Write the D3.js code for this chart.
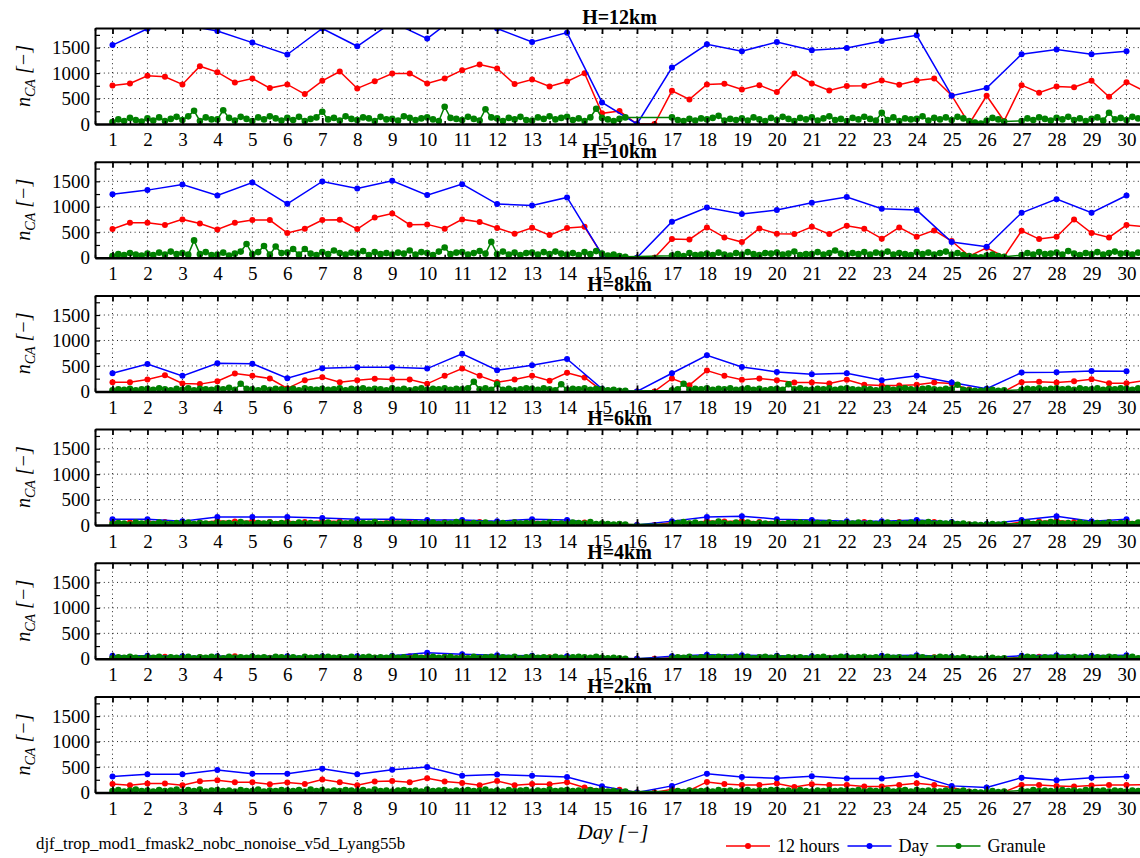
<!DOCTYPE html>
<html>
<head>
<meta charset="utf-8">
<script src="https://cdn.jsdelivr.net/npm/d3@7/dist/d3.min.js"></script>
<style>
	body { margin: 0; background: #fff; }
	svg { display: block; font-family: "Liberation Serif", "Times New Roman", serif; }
	.axis path, .axis line { stroke: #000; }
	.axis text { font-family: "Liberation Serif", "Times New Roman", serif; fill: #000; }
</style>
</head>
<body>
<div id="chart"></div>
<script>
// ---- data -------------------------------------------------------------
var titles = ["H=12km", "H=10km", "H=8km", "H=6km", "H=4km", "H=2km"];
var dayTicks = d3.range(1, 31);
var yTickValues = [0, 250, 500, 750, 1000, 1250, 1500, 1750];
var yGridValues = [500, 1000, 1500];

// daily counts (day 1..30)
var day12 = [1550, 1870, 1950, 1826, 1598, 1364, 1875, 1526, 2000, 1677, 2200, 1875, 1611, 1794, 424, 0, 1109, 1565, 1428, 1611, 1448, 1493, 1631, 1742, 555, 705, 1370, 1461, 1370, 1428];
var day10 = [1248, 1327, 1438, 1222, 1477, 1059, 1497, 1359, 1510, 1229, 1444, 1052, 1026, 1183, 60, 0, 706, 987, 856, 935, 1078, 1190, 961, 935, 307, 216, 882, 1150, 882, 1222];
var day8 = [357, 539, 305, 552, 545, 260, 455, 474, 474, 448, 740, 416, 513, 636, 50, 0, 357, 708, 481, 383, 338, 357, 221, 305, 175, 52, 370, 377, 403, 396];
var day6 = [117, 117, 78, 157, 157, 157, 137, 117, 117, 98, 98, 78, 117, 98, 20, 0, 78, 157, 176, 117, 98, 78, 78, 98, 59, 20, 98, 176, 78, 117];
var day4 = [60, 60, 50, 50, 50, 50, 50, 50, 60, 120, 90, 70, 60, 50, 20, 0, 50, 80, 70, 60, 50, 50, 60, 70, 40, 20, 60, 70, 60, 70];
var day2 = [312, 357, 357, 442, 370, 370, 468, 357, 448, 500, 331, 351, 331, 305, 123, 0, 130, 370, 305, 279, 318, 273, 273, 338, 130, 97, 292, 240, 292, 312];

// 12 hour counts (day 1, 1.5, 2 ... 30.5)
var half12 = [757, 796, 945, 926, 777, 1135, 1018, 816, 894, 705, 777, 587, 848, 1031, 698, 841, 992, 992, 796, 894,
	1057, 1168, 1090, 783, 874, 737, 835, 998, 209, 254, 0, 0, 652, 483, 777, 790, 679, 763, 626, 992,
	796, 659, 744, 751, 855, 770, 855, 894, 560, 0, 555, 60, 763, 613, 737, 724, 848, 535, 822, 650];
var half10 = [562, 686, 686, 641, 752, 673, 556, 686, 739, 739, 484, 569, 739, 745, 562, 791, 869, 647, 654, 569,
	752, 699, 582, 471, 588, 444, 582, 608, 60, 20, 0, 0, 366, 359, 595, 399, 307, 575, 471, 464,
	608, 464, 627, 569, 373, 595, 412, 536, 327, 30, 196, 20, 529, 366, 412, 752, 484, 399, 641, 608];
var half8 = [182, 182, 234, 318, 156, 143, 201, 351, 305, 253, 58, 221, 279, 182, 221, 247, 234, 234, 149, 305,
	448, 305, 182, 234, 305, 208, 364, 273, 15, 0, 0, 0, 253, 123, 409, 305, 227, 253, 221, 175,
	175, 156, 227, 130, 117, 117, 130, 175, 156, 40, 0, 0, 182, 188, 175, 201, 240, 162, 162, 210];
var half6 = [70, 50, 70, 60, 60, 50, 80, 70, 80, 60, 70, 60, 80, 70, 70, 60, 80, 60, 70, 60,
	70, 60, 50, 60, 70, 60, 70, 50, 10, 20, 0, 0, 50, 30, 80, 70, 80, 60, 70, 60,
	60, 50, 50, 60, 50, 60, 70, 60, 30, 10, 0, 10, 60, 70, 90, 60, 50, 60, 70, 60];
var half4 = [30, 20, 30, 40, 20, 30, 40, 50, 30, 20, 30, 20, 40, 30, 30, 20, 40, 50, 60, 40,
	50, 30, 30, 20, 40, 30, 30, 20, 10, 0, 0, 0, 20, 10, 40, 30, 50, 30, 30, 20,
	30, 20, 30, 20, 30, 20, 40, 30, 10, 0, 0, 0, 30, 40, 40, 30, 30, 20, 30, 30];
var half2 = [169, 143, 175, 175, 143, 221, 240, 201, 201, 162, 195, 169, 253, 201, 143, 214, 227, 201, 279, 214,
	188, 143, 227, 143, 169, 162, 201, 97, 52, 52, 0, 0, 65, 39, 208, 169, 149, 149, 175, 110,
	162, 149, 149, 117, 117, 149, 182, 149, 97, 19, 0, 13, 149, 149, 130, 117, 136, 149, 149, 150];

// granule counts, six per day (null = no granule)
var gran12 = [
	40, 90, 60, 120, 80, 50,    110, 70, 130, 60, 100, 140,   80, 150, 260, 60, 130, 90,
	90, 270, 120, 70, 140, 100,  60, 130, 90, 150, 110, 70,    120, 80, 140, 60, 100, 130,
	240, 90, 120, 70, 150, 100,  80, 130, 110, 60, 140, 90,    100, 70, 150, 120, 80, 110,
	130, 90, 60, 340, 120, 100,  80, 140, 100, 70, 290, 130,   110, 60, 120, 90, 140, 80,
	70, 130, 100, 150, 90, 120,  140, 80, 110, 60, 130, 300,   120, 90, 60, 100, 130, null,
	null, null, null, null, null, null,  130, 80, 60, 100, 70, 110,  90, 120, 160, 70, 100, 80,
	110, 70, 130, 90, 60, 120,   80, 140, 100, 60, 120, 90,    130, 70, 110, 150, 80, 100,
	60, 120, 90, 140, 100, 70,   220, 80, 130, 60, 110, 90,    100, 150, 70, 120, 90, 130,
	80, 140, 110, 60, 30, 10,    70, 120, 90, 50, null, null,  60, 110, 80, 130, 100, 70,
	120, 90, 140, 80, 110, 60,   100, 130, 70, 220, 90, 120,   80, 140, 110, 70, 120, 100
];
var gran10 = [
	30, 70, 50, 90, 60, 40,      80, 50, 100, 60, 120, 70,     90, 60, 340, 70, 110, 50,
	60, 100, 40, 80, 120, 270,   70, 110, 230, 60, 220, 90,    100, 170, 60, 170, 80, 50,
	110, 70, 140, 90, 60, 100,   80, 130, 50, 110, 70, 90,     60, 100, 80, 140, 60, 110,
	90, 50, 120, 200, 70, 100,   110, 60, 90, 130, 80, 310,    70, 120, 60, 100, 50, 90,
	100, 60, 110, 70, 120, 80,   60, 90, 50, 110, 70, 130,     80, 40, 60, 30, 20, null,
	null, null, null, null, null, null,  40, 70, 30, 90, 50, 60,  80, 50, 100, 60, 40, 90,
	60, 110, 70, 50, 90, 80,     100, 60, 80, 120, 50, 70,     70, 110, 60, 90, 140, 80,
	50, 90, 70, 110, 60, 100,    80, 120, 60, 90, 70, 50,      110, 70, 100, 60, 90, 120,
	60, 90, 50, 30, 20, 10,      40, 60, 30, 20, null, null,   50, 90, 60, 110, 70, 80,
	100, 60, 130, 80, 50, 90,    70, 110, 60, 90, 120, 80,     90, 60, 100, 70, 110, 60
];
var gran8 = [
	20, 40, 30, 50, 20, 40,      50, 30, 60, 40, 20, 50,       30, 60, 20, 50, 40, 30,
	60, 40, 70, 30, 150, 50,     40, 20, 60, 30, 50, 40,       30, 50, 20, 60, 40, 30,
	50, 30, 40, 60, 20, 50,      40, 60, 30, 50, 40, 20,       60, 30, 50, 20, 40, 60,
	30, 50, 40, 60, 30, 50,      40, 60, 190, 40, 60, 30,      140, 30, 50, 20, 40, 60,
	50, 30, 60, 40, 20, 140,     30, 50, 40, 60, 30, 50,       40, 20, 30, 10, 10, null,
	null, null, null, null, null, null,  20, 40, 150, 30, 50, 40,  60, 30, 50, 40, 60, 30,
	40, 60, 30, 50, 20, 40,      50, 30, 140, 40, 60, 30,      30, 50, 40, 60, 30, 50,
	60, 40, 30, 50, 40, 20,      40, 60, 30, 50, 60, 40,       30, 50, 60, 40, 30, 50,
	40, 130, 30, 20, 10, 10,     20, 30, 10, 20, null, null,   30, 50, 40, 60, 30, 50,
	60, 40, 50, 30, 60, 40,      40, 60, 30, 50, 40, 60,       50, 30, 60, 40, 50, 30
];
var gran6 = [
	20, 40, 30, 10, 50, 30,      40, 20, 50, 30, 20, 40,       30, 50, 20, 40, 30, 20,
	50, 30, 40, 20, 60, 30,      20, 40, 30, 50, 20, 40,       40, 20, 50, 30, 40, 20,
	30, 50, 20, 40, 30, 50,      20, 40, 30, 60, 20, 30,       40, 30, 50, 20, 40, 30,
	30, 50, 20, 40, 30, 60,      50, 20, 40, 30, 50, 20,       30, 40, 20, 50, 30, 40,
	40, 20, 30, 50, 20, 30,      20, 50, 40, 30, 60, 20,       30, 20, 10, 20, 10, null,
	null, null, null, null, null, null,  20, 40, 60, 30, 50, 20,  40, 30, 70, 40, 20, 50,
	30, 50, 20, 40, 30, 20,      50, 20, 40, 30, 50, 40,       20, 40, 30, 50, 20, 30,
	40, 30, 50, 20, 40, 20,      30, 50, 20, 40, 30, 50,       20, 40, 60, 30, 40, 30,
	40, 20, 30, 10, 10, 0,       10, 20, 10, 20, null, null,   30, 50, 20, 40, 30, 60,
	50, 30, 40, 20, 50, 30,      20, 40, 30, 50, 20, 40,       40, 20, 50, 30, 40, 20
];
var gran4 = [
	10, 30, 20, 40, 20, 10,      30, 20, 40, 10, 30, 20,       20, 40, 10, 30, 20, 40,
	30, 10, 40, 20, 30, 20,      40, 20, 30, 10, 40, 30,       20, 30, 10, 40, 20, 30,
	30, 40, 20, 30, 10, 40,      10, 30, 40, 20, 30, 20,       40, 20, 30, 10, 40, 20,
	20, 40, 20, 30, 40, 10,      30, 10, 40, 20, 30, 40,       20, 30, 20, 40, 10, 30,
	40, 20, 30, 20, 40, 20,      10, 30, 40, 30, 20, 40,       20, 10, 20, 10, 0, null,
	null, null, null, null, null, null,  10, 30, 20, 40, 10, 30,  30, 20, 40, 30, 20, 40,
	20, 40, 10, 30, 40, 20,      40, 10, 30, 20, 30, 10,       20, 30, 40, 10, 20, 40,
	30, 20, 30, 40, 20, 30,      10, 40, 20, 30, 10, 20,       40, 30, 10, 20, 40, 30,
	20, 10, 30, 10, 0, 0,        10, 20, 0, 10, null, null,    20, 40, 30, 10, 30, 20,
	40, 20, 30, 40, 20, 30,      10, 30, 20, 40, 30, 10,       30, 40, 10, 20, 40, 30
];
var gran2 = [
	30, 50, 20, 40, 60, 30,      40, 20, 50, 30, 40, 60,       20, 50, 30, 60, 20, 40,
	50, 30, 40, 20, 50, 30,      30, 60, 20, 40, 30, 50,       40, 30, 50, 20, 60, 30,
	50, 20, 40, 30, 50, 40,      30, 50, 20, 60, 30, 40,       20, 40, 50, 30, 40, 20,
	60, 30, 40, 50, 20, 40,      30, 50, 30, 40, 60, 20,       40, 20, 50, 30, 40, 50,
	20, 40, 30, 60, 30, 40,      50, 30, 40, 20, 50, 30,       40, 20, 30, 10, 20, null,
	null, null, null, null, null, null,  20, 30, 10, 40, 20, 30,  40, 20, 50, 30, 40, 20,
	30, 50, 20, 40, 30, 50,      50, 30, 40, 20, 50, 30,       20, 40, 30, 50, 30, 40,
	40, 30, 50, 20, 40, 30,      30, 50, 20, 40, 50, 20,       50, 30, 40, 30, 20, 40,
	30, 20, 40, 10, 10, 0,       10, 30, 10, 20, null, null,   40, 20, 50, 30, 40, 30,
	30, 50, 30, 40, 20, 50,      50, 30, 40, 20, 40, 30,       20, 40, 30, 50, 30, 40
];

var dailySeries = [day12, day10, day8, day6, day4, day2];
var halfSeries = [half12, half10, half8, half6, half4, half2];
var granuleSeries = [gran12, gran10, gran8, gran6, gran4, gran2];

var legendLabels = ["12 hours", "Day", "Granule"];
var legendColors = ["#ff0000", "#0000ff", "#008000"];

// ---- layout -------------------------------------------------------------
var WIDTH = 1140, HEIGHT = 858;
var PLOT_LEFT = 95, PLOT_RIGHT = 1144;
var PANEL_TOP = 28, PANEL_H = 96, PANEL_STEP = 133.7;
var Y_MAX = 1885;

var svg = d3.select("#chart").append("svg")
	.attr("width", WIDTH)
	.attr("height", HEIGHT);

var x = d3.scaleLinear().domain([0.5, 30.5]).range([PLOT_LEFT, PLOT_RIGHT]);

// turn the arrays into {t, v} points
function toPoints(values, start, step) {
	return values
		.map((v, i) => ({ t: start + i * step, v: v }))
		.filter(d => d.v !== null);
}

function drawSeries(g, y, points, color, r) {
	var line = d3.line().x(d => x(d.t)).y(d => y(d.v));
	g.append("path")
		.datum(points)
		.attr("fill", "none")
		.attr("stroke", color)
		.attr("stroke-width", 1.5)
		.attr("d", line);
	g.selectAll(null)
		.data(points)
		.enter().append("circle")
		.attr("cx", d => x(d.t))
		.attr("cy", d => y(d.v))
		.attr("r", r)
		.attr("fill", color);
}

titles.forEach((title, i) => {
	var top = PANEL_TOP + i * PANEL_STEP;
	var bottom = top + PANEL_H;
	var y = d3.scaleLinear().domain([0, Y_MAX]).range([bottom, top]);

	var panel = svg.append("g").attr("class", "panel");

	panel.append("clipPath")
		.attr("id", "clip-" + i)
		.append("rect")
		.attr("x", PLOT_LEFT)
		.attr("y", top)
		.attr("width", PLOT_RIGHT - PLOT_LEFT)
		.attr("height", PANEL_H);

	// dotted grid
	var grid = panel.append("g")
		.attr("stroke", "#222")
		.attr("stroke-width", 1)
		.attr("stroke-dasharray", "1,3.4");
	grid.selectAll(null).data(dayTicks).enter().append("line")
		.attr("x1", d => x(d)).attr("x2", d => x(d))
		.attr("y1", top).attr("y2", bottom);
	grid.selectAll(null).data(yGridValues).enter().append("line")
		.attr("x1", PLOT_LEFT).attr("x2", PLOT_RIGHT)
		.attr("y1", d => y(d)).attr("y2", d => y(d));

	// data
	var data = panel.append("g").attr("clip-path", "url(#clip-" + i + ")");
	drawSeries(data, y, toPoints(halfSeries[i], 1, 0.5), legendColors[0], 3);
	drawSeries(data, y, toPoints(dailySeries[i], 1, 1), legendColors[1], 3);
	drawSeries(data, y, toPoints(granuleSeries[i], 1, 1 / 6), legendColors[2], 3.3);

	// bottom axis with labels, ticks pointing inward
	var halfTicks = d3.range(0.5, 31, 1);
	panel.append("g")
		.attr("class", "axis")
		.attr("transform", "translate(0," + bottom + ")")
		.call(d3.axisBottom(x).tickValues(halfTicks).tickSizeInner(-3).tickSizeOuter(0).tickFormat(""))
		.call(g => g.select(".domain").remove())
		.selectAll("line").attr("stroke-width", 1.5);
	panel.append("g")
		.attr("class", "axis")
		.attr("transform", "translate(0," + bottom + ")")
		.call(d3.axisBottom(x).tickValues(dayTicks).tickSizeInner(-6).tickSizeOuter(0).tickPadding(9))
		.call(g => g.select(".domain").attr("stroke-width", 2.5))
		.call(g => g.selectAll("line").attr("stroke-width", 1.8))
		.call(g => g.selectAll("text").attr("font-size", 19));

	// top axis, ticks only
	panel.append("g")
		.attr("class", "axis")
		.attr("transform", "translate(0," + top + ")")
		.call(d3.axisTop(x).tickValues(halfTicks).tickSizeInner(-3).tickSizeOuter(0).tickFormat(""))
		.call(g => g.select(".domain").remove())
		.selectAll("line").attr("stroke-width", 1.5);
	panel.append("g")
		.attr("class", "axis")
		.attr("transform", "translate(0," + top + ")")
		.call(d3.axisTop(x).tickValues(dayTicks).tickSizeInner(-6).tickSizeOuter(0).tickFormat(""))
		.call(g => g.select(".domain").attr("stroke-width", 2))
		.call(g => g.selectAll("line").attr("stroke-width", 1.8));

	// left axis
	panel.append("g")
		.attr("class", "axis")
		.attr("transform", "translate(" + PLOT_LEFT + ",0)")
		.call(d3.axisLeft(y).tickValues(yTickValues).tickSizeInner(-5).tickSizeOuter(0).tickPadding(5)
			.tickFormat(d => d % 500 === 0 ? d : ""))
		.call(g => g.select(".domain").attr("stroke-width", 2))
		.call(g => g.selectAll("line").attr("stroke-width", 1.2))
		.call(g => g.selectAll("text").attr("font-size", 19));

	// title
	panel.append("text")
		.attr("x", (PLOT_LEFT + PLOT_RIGHT) / 2)
		.attr("y", top - 4)
		.attr("text-anchor", "middle")
		.attr("font-weight", "bold")
		.attr("font-size", 20)
		.text(title);

	// y label n_CA [-]
	var yl = panel.append("text")
		.attr("transform", "translate(30," + (top + PANEL_H / 2) + ") rotate(-90)")
		.attr("text-anchor", "middle")
		.attr("font-style", "italic")
		.attr("font-size", 20);
	yl.append("tspan").text("n");
	yl.append("tspan").attr("font-size", 14).attr("dy", 5).text("CA");
	yl.append("tspan").attr("dy", -5).text(" [\u2212]");
});

// x label
svg.append("text")
	.attr("x", 613)
	.attr("y", 839)
	.attr("text-anchor", "middle")
	.attr("font-style", "italic")
	.attr("font-size", 21)
	.text("Day [\u2212]");

// run name
svg.append("text")
	.attr("x", 36)
	.attr("y", 849)
	.attr("font-size", 16.8)
	.text("djf_trop_mod1_fmask2_nobc_nonoise_v5d_Lyang55b");

// legend
var legend = svg.append("g").attr("transform", "translate(0,846)");
var lx = 726;
legendLabels.forEach((label, i) => {
	legend.append("line")
		.attr("x1", lx).attr("x2", lx + 44)
		.attr("stroke", legendColors[i])
		.attr("stroke-width", 1.5);
	legend.append("circle")
		.attr("cx", lx + 22)
		.attr("r", 3)
		.attr("fill", legendColors[i]);
	var t = legend.append("text")
		.attr("x", lx + 51)
		.attr("y", 6)
		.attr("font-size", 18)
		.text(label);
	lx += 51 + t.node().getComputedTextLength() + 8;
});
</script>
</body>
</html>
